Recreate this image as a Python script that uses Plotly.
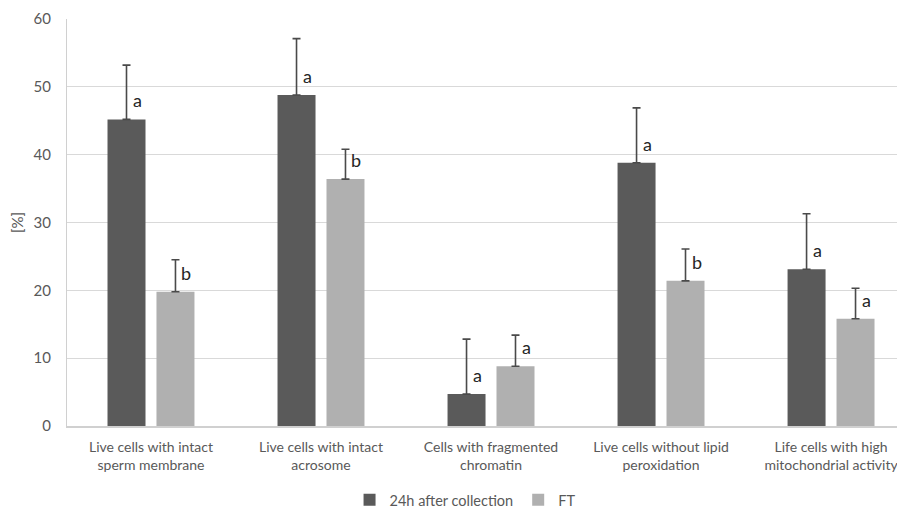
import plotly.graph_objects as go

categories = ["Live cells with intact<br>sperm membrane",
              "Live cells with intact<br>acrosome",
              "Cells with fragmented<br>chromatin",
              "Live cells without lipid<br>peroxidation",
              "Life cells with high<br>mitochondrial activity"]
series_names = ["24h after collection", "FT"]
vals_24h = [45.2, 48.8, 4.7, 38.8, 23.1]
err_24h = [8.0, 8.3, 8.1, 8.1, 8.2]
vals_ft = [19.8, 36.4, 8.8, 21.4, 15.8]
err_ft = [4.7, 4.4, 4.6, 4.7, 4.5]
letters_24h = ["a", "a", "a", "a", "a"]
letters_ft = ["b", "b", "a", "b", "a"]

FONT = "Lato, 'Open Sans', sans-serif"
x_idx = list(range(len(categories)))

fig = go.Figure()
fig.add_trace(go.Bar(
    x=x_idx, y=vals_24h, name=series_names[0],
    marker=dict(color="#5a5a5a", line=dict(width=0)),
    error_y=dict(type="data", array=err_24h, arrayminus=[0]*5, symmetric=False,
                 color="#4a4a4a", thickness=1.6, width=4),
))
fig.add_trace(go.Bar(
    x=x_idx, y=vals_ft, name=series_names[1],
    marker=dict(color="#b0b0b0", line=dict(width=0)),
    error_y=dict(type="data", array=err_ft, arrayminus=[0]*5, symmetric=False,
                 color="#4a4a4a", thickness=1.6, width=4),
))

off = 0.144
for i in x_idx:
    fig.add_annotation(x=i - off, y=vals_24h[i] + 2.8, text=letters_24h[i],
                       xref="x", yref="y", showarrow=False, xshift=11,
                       font=dict(family=FONT, size=18, color="#262626"))
    fig.add_annotation(x=i + off, y=vals_ft[i] + 2.8, text=letters_ft[i],
                       xref="x", yref="y", showarrow=False, xshift=11,
                       font=dict(family=FONT, size=18, color="#262626"))

# page body has an 8px default margin: size/margins compensate for it
fig.update_layout(
    width=897, height=503,
    margin=dict(l=59, r=0, t=11, b=85, autoexpand=False),
    plot_bgcolor="white", paper_bgcolor="white",
    barmode="group", bargap=0.424, bargroupgap=0.224,
    font=dict(family=FONT, size=14, color="#595959"),
    showlegend=True,
    legend=dict(orientation="h", x=0.475, xanchor="center",
                yref="container", y=0.022, yanchor="middle",
                font=dict(family=FONT, size=14.5, color="#595959"),
                itemwidth=30, traceorder="normal"),
    xaxis=dict(tickmode="array", tickvals=x_idx, ticktext=categories,
               range=[-0.494, 4.435], showgrid=False, zeroline=False,
               showline=True, linecolor="#d0d0d0", linewidth=1.5, automargin=False,
               ticks="outside", ticklen=7, tickcolor="rgba(0,0,0,0)",
               tickfont=dict(size=14, color="#595959")),
    yaxis=dict(range=[0, 60], dtick=10, showgrid=True, gridcolor="#d9d9d9", gridwidth=1.2,
               zeroline=False, showline=True, linecolor="#d0d0d0", linewidth=1.2,
               automargin=False,
               ticks="outside", ticklen=12, tickcolor="rgba(0,0,0,0)",
               tickfont=dict(size=15, color="#595959"),
               title=dict(text="[%]", font=dict(size=15, color="#595959"), standoff=6)),
)

fig.write_html("out.html")
